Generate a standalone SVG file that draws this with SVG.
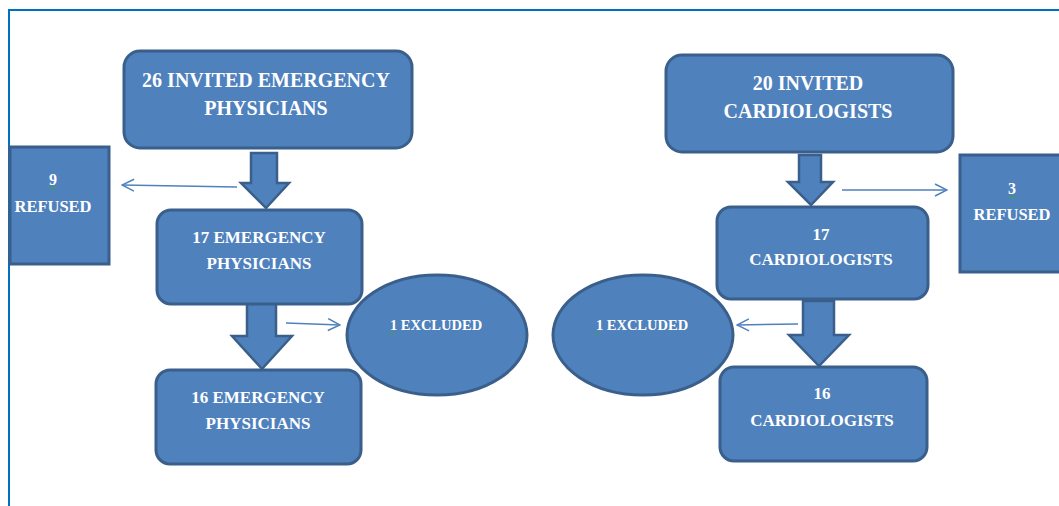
<svg xmlns="http://www.w3.org/2000/svg" width="1059" height="506" viewBox="0 0 1059 506">
<defs>
<style>
.box{fill:#4F81BD;stroke:#3A5F8B;stroke-width:3}
.blk{fill:#4F81BD;stroke:#3A5F8B;stroke-width:2.5;stroke-linejoin:miter}
.t{font-family:"Liberation Serif","Times New Roman",serif;font-weight:bold;fill:#FFFFFF;text-anchor:middle}
.thin{stroke:#4F81BD;stroke-width:1.5;fill:none}
.sq{stroke:#3FA33F;stroke-width:1;fill:none}
</style>
<marker id="open" viewBox="0 0 14 14" refX="13" refY="7" markerWidth="14" markerHeight="14" markerUnits="userSpaceOnUse" orient="auto">
<path d="M1,1 L13,7 L1,13" fill="none" stroke="#4F81BD" stroke-width="1.5"/>
</marker>
</defs>
<rect width="1059" height="506" fill="#FFFFFF"/>
<path d="M9,506 L9,10 L1059,10" fill="none" stroke="#0070C0" stroke-width="2"/>

<g id="connectors">
<polygon class="blk" points="251,153 277,153 277,183 289,183 266,208 241,183 251,183"/>
<polygon class="blk" points="247,303 276,303 276,336 292,336 262,369 232,336 247,336"/>
<polygon class="blk" points="799,155 821,155 821,182 833,182 811,205 788,182 799,182"/>
<polygon class="blk" points="803,301 834,301 834,335 849,335 819,366 789,335 803,335"/>
<line class="thin" x1="237" y1="187" x2="122" y2="185" marker-end="url(#open)"/>
<line class="thin" x1="286" y1="323" x2="340" y2="325" marker-end="url(#open)"/>
<line class="thin" x1="842" y1="190" x2="947" y2="190" marker-end="url(#open)"/>
<line class="thin" x1="798" y1="324" x2="737" y2="325" marker-end="url(#open)"/>
</g>

<g id="invited-ep">
<rect class="box" x="124" y="51" width="288" height="97" rx="16"/>
<text class="t" x="266" y="87" font-size="20">26 INVITED EMERGENCY</text>
<text class="t" x="266" y="115" font-size="20">PHYSICIANS</text>
</g>

<g id="invited-cardio">
<rect class="box" x="666" y="55" width="287" height="97" rx="16"/>
<text class="t" x="808" y="90" font-size="20">20 INVITED</text>
<text class="t" x="808" y="118" font-size="20">CARDIOLOGISTS</text>
</g>

<g id="refused-ep">
<rect class="box" x="10" y="147" width="99" height="117"/>
<text class="t" x="53" y="185" font-size="16">9</text>
<text class="t" x="53" y="212" font-size="16.5">REFUSED</text>
<path class="sq" d="M48,188 q1.5,-2 3,0 t3,0 t3,0"/>
</g>

<g id="ep17">
<rect class="box" x="157" y="210" width="205" height="94" rx="14"/>
<text class="t" x="259" y="243" font-size="17">17 EMERGENCY</text>
<text class="t" x="259" y="269" font-size="17">PHYSICIANS</text>
</g>

<g id="ep16">
<rect class="box" x="156" y="370" width="205" height="94" rx="14"/>
<text class="t" x="258" y="403" font-size="17">16 EMERGENCY</text>
<text class="t" x="258" y="429" font-size="17">PHYSICIANS</text>
</g>

<g id="excluded-ep">
<ellipse class="box" cx="437" cy="335" rx="90" ry="60"/>
<text class="t" x="436" y="330" font-size="14.5">1 EXCLUDED</text>
<path class="sq" d="M388,333 q1.5,-2 3,0 t3,0"/>
</g>

<g id="excluded-cardio">
<ellipse class="box" cx="643" cy="335" rx="90" ry="60"/>
<text class="t" x="642" y="330" font-size="14.5">1 EXCLUDED</text>
<path class="sq" d="M594,333 q1.5,-2 3,0 t3,0"/>
</g>

<g id="cardio17">
<rect class="box" x="717" y="207" width="211" height="92" rx="14"/>
<text class="t" x="821" y="240" font-size="17">17</text>
<text class="t" x="821" y="265" font-size="17">CARDIOLOGISTS</text>
</g>

<g id="refused-cardio">
<rect class="box" x="960" y="155" width="104" height="117"/>
<text class="t" x="1012" y="194" font-size="16">3</text>
<text class="t" x="1012" y="220" font-size="16.5">REFUSED</text>
<path class="sq" d="M1007,197 q1.5,-2 3,0 t3,0 t3,0"/>
</g>

<g id="cardio16">
<rect class="box" x="720" y="367" width="207" height="94" rx="14"/>
<text class="t" x="822" y="399" font-size="17">16</text>
<text class="t" x="822" y="426" font-size="17">CARDIOLOGISTS</text>
</g>
</svg>
